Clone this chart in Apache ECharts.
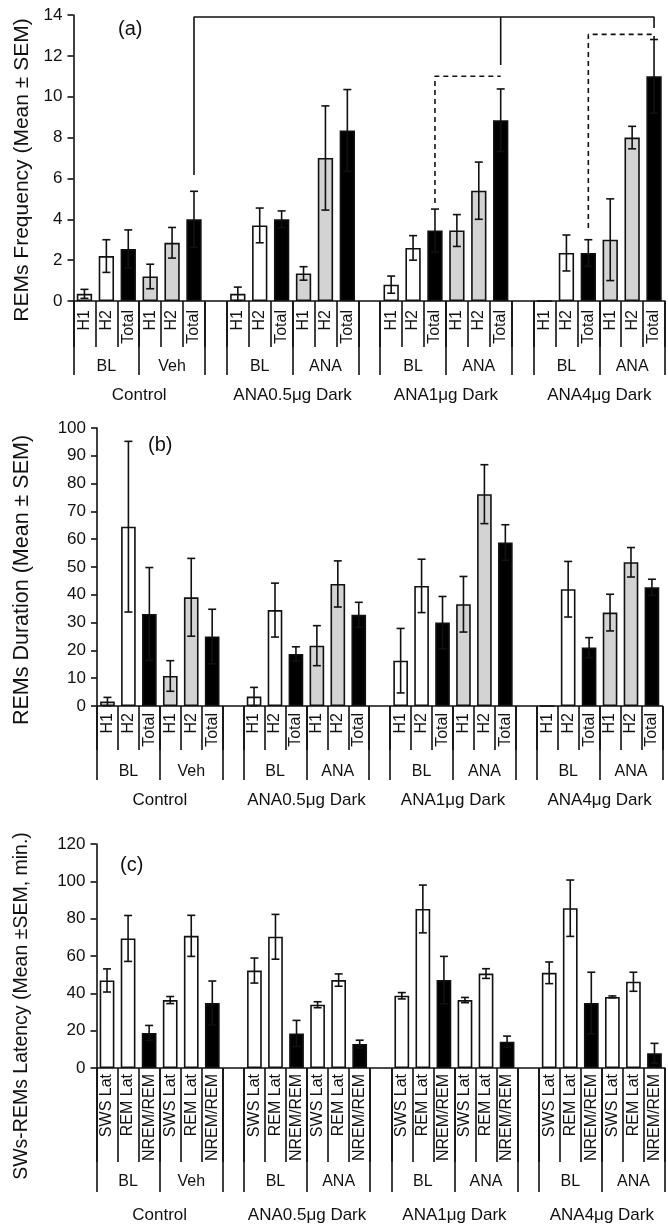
<!DOCTYPE html>
<html><head><meta charset="utf-8">
<script src="https://cdn.jsdelivr.net/npm/echarts@6/dist/echarts.min.js"></script>
<style>html,body{margin:0;padding:0;background:#fff}#c{width:668px;height:1224px}</style>
</head><body><div id="c"></div>
<script>
// ---------- data ----------
const groupNames = ['Control', 'ANA0.5μg Dark', 'ANA1μg Dark', 'ANA4μg Dark'];
const condNames = [['BL', 'Veh'], ['BL', 'ANA'], ['BL', 'ANA'], ['BL', 'ANA']];
const hourLabels = ['H1', 'H2', 'Total'];
const latLabels = ['SWS Lat', 'REM Lat', 'NREM/REM'];

// (a) REMs frequency, order: group -> condition -> H1,H2,Total
const freqMean = [0.35, 2.2, 2.55, 1.2, 2.85, 4.0,  0.35, 3.7, 4.0, 1.35, 7.0, 8.35,  0.8, 2.6, 3.45, 3.45, 5.4, 8.85,  0, 2.35, 2.35, 3.0, 8.0, 11.0];
const freqSem  = [0.22, 0.8, 0.93, 0.6, 0.75, 1.37,  0.33, 0.85, 0.41, 0.33, 2.55, 2.0,  0.42, 0.6, 1.05, 0.78, 1.4, 1.53,  0, 0.88, 0.65, 2.0, 0.55, 1.8];
// (b) REMs duration
const durMean = [1.6, 64.5, 33.1, 10.8, 39.1, 25.0,  3.4, 34.5, 18.7, 21.7, 43.9, 32.8,  16.3, 43.2, 30.0, 36.6, 76.2, 58.8,  0, 42.0, 21.0, 33.6, 51.7, 42.7];
const durSem  = [1.5, 30.7, 16.7, 5.5, 14.0, 9.8,  3.3, 9.7, 2.6, 7.2, 8.3, 4.5,  11.6, 9.6, 9.4, 10.0, 10.6, 6.4,  0, 10.0, 3.6, 6.6, 5.3, 2.9];
// (c) SWS / REM latency
const latMean = [46.9, 69.4, 18.8, 36.4, 70.8, 34.8,  52.2, 70.3, 18.5, 33.9, 47.1, 12.8,  38.7, 85.2, 47.1, 36.4, 50.6, 14.1,  51.0, 85.6, 34.8, 38.1, 46.2, 7.9];
const latSem  = [6.2, 12.3, 4.0, 1.9, 11.0, 11.8,  6.7, 12.0, 7.0, 1.6, 3.3, 2.1,  1.7, 12.8, 12.7, 1.4, 2.6, 3.0,  5.8, 15.1, 16.5, 0.5, 5.1, 5.3];

// significance brackets in panel (a): [slot index, value]
const bracketSolid = [[5, 6.17], [5, 13.9], [26, 13.9], [26, 13.36]];
const bracketSolidDrop = [[19, 13.9], [19, 11.55]];
const bracketDash1 = [[16, 4.8], [16, 11.0], [19, 11.0]];
const bracketDash2 = [[23, 3.57], [23, 13.05], [26, 13.05], [26, 12.8]];

// ---------- helpers ----------
const FONT = 'Liberation Sans, Arial, Helvetica, sans-serif';
const GRAY = '#d3d3d3';
const NSLOT = 27, NHALF = 55;
function slotOf(i) { return i + Math.floor(i / 6); }
function bottomCats(sub) {
  const c = [];
  for (let g = 0; g < 4; g++) { c.push(...sub, ...sub); if (g < 3) c.push(''); }
  return c;
}
function condCats() {
  const c = new Array(NHALF).fill('');
  for (let g = 0; g < 4; g++) { const b = g * 7; c[2 * b + 3] = condNames[g][0]; c[2 * b + 9] = condNames[g][1]; }
  return c;
}
function groupCats() {
  const c = new Array(NHALF).fill('');
  for (let g = 0; g < 4; g++) { c[2 * (g * 7 + 3)] = groupNames[g]; }
  return c;
}
const longTickIdx = new Set();
for (let g = 0; g < 4; g++) { const b = g * 7; longTickIdx.add(2 * b); longTickIdx.add(2 * b + 6); longTickIdx.add(2 * b + 12); }

function colorOf(i, allWhite) {
  const sub = i % 3, cond = Math.floor(i / 3) % 2;
  if (sub === 2) return '#000';
  if (allWhite) return '#fff';
  return cond === 0 ? '#fff' : GRAY;
}
function barData(mean, allWhite) {
  const d = new Array(NSLOT).fill(null);
  mean.forEach((v, i) => { d[slotOf(i)] = { value: v, itemStyle: { color: colorOf(i, allWhite) } }; });
  return d;
}
function errData(mean, sem) {
  return mean.map((v, i) => [slotOf(i), v, sem[i]]);
}
function errRender(params, api) {
  const s = api.value(2);
  if (!s) return;
  const x = api.value(0), m = api.value(1);
  const t = api.coord([x, m + s]), b = api.coord([x, m - s]);
  const cap = 4, st = { stroke: '#111', lineWidth: 1.6 };
  return { type: 'group', children: [
    { type: 'line', shape: { x1: t[0], y1: t[1], x2: b[0], y2: b[1] }, style: st },
    { type: 'line', shape: { x1: t[0] - cap, y1: t[1], x2: t[0] + cap, y2: t[1] }, style: st },
    { type: 'line', shape: { x1: b[0] - cap, y1: b[1], x2: b[0] + cap, y2: b[1] }, style: st }
  ] };
}

const panels = [
  { left: 73.5, right: -1, top: 15, height: 286, max: 14, interval: 2, name: 'REMs Frequency (Mean ± SEM)', nameSize: 21, namePad: 24, nameGap: 40,
    sub: hourLabels, subMargin: 9, shortLen: 46, longLen: 74, condMargin: 58, groupMargin: 86, mean: freqMean, sem: freqSem, allWhite: false, tag: '(a)', tagX: 113, tagY: 14 },
  { left: 97, right: 5.6, top: 428, height: 278, max: 100, interval: 10, name: 'REMs Duration (Mean ± SEM)', nameSize: 21.5, namePad: 26, nameGap: 64,
    sub: hourLabels, subMargin: 7, shortLen: 44, longLen: 74, condMargin: 58, groupMargin: 86, mean: durMean, sem: durSem, allWhite: false, tag: '(b)', tagX: 143, tagY: 430 },
  { left: 96.5, right: 0.7, top: 844, height: 228, max: 120, interval: 20, name: 'SWs-REMs Latency (Mean ±SEM, min.)', nameSize: 19.5, namePad: 100, nameGap: 65,
    sub: latLabels, subMargin: 6, shortLen: 94, longLen: 124, condMargin: 106, groupMargin: 139, mean: latMean, sem: latSem, allWhite: true, tag: '(c)', tagX: 115, tagY: 850 }
];

const grid = [], xAxis = [], yAxis = [], series = [], title = [];
const axisLineStyle = { color: '#111', width: 1.6 };
panels.forEach((p, k) => {
  grid.push({ left: p.left, right: p.right, top: p.top, height: p.height, containLabel: false });
  title.push({ text: p.tag, left: p.tagX, top: p.tagY, textStyle: { fontFamily: FONT, fontSize: 20, fontWeight: 'normal', color: '#111' } });
  // primary category axis: bars, short ticks, rotated labels
  xAxis.push({ type: 'category', gridIndex: k, data: bottomCats(p.sub), boundaryGap: true,
    axisLine: { show: true, lineStyle: axisLineStyle },
    axisTick: { show: true, interval: 0, length: p.shortLen, lineStyle: axisLineStyle },
    axisLabel: { interval: 0, rotate: 90, margin: p.subMargin, fontSize: 16, fontFamily: FONT, color: '#111' },
    splitLine: { show: false } });
  // half-slot axis: long ticks and condition labels
  xAxis.push({ type: 'category', gridIndex: k, data: condCats(), boundaryGap: false, position: 'bottom',
    axisLine: { show: false },
    axisTick: { show: true, length: p.longLen, lineStyle: axisLineStyle, interval: (i) => longTickIdx.has(i) },
    axisLabel: { interval: 0, margin: p.condMargin, fontSize: 16, fontFamily: FONT, color: '#111' },
    splitLine: { show: false } });
  // half-slot axis: group labels
  xAxis.push({ type: 'category', gridIndex: k, data: groupCats(), boundaryGap: false, position: 'bottom',
    axisLine: { show: false }, axisTick: { show: false },
    axisLabel: { interval: 0, margin: p.groupMargin, fontSize: 17, fontFamily: FONT, color: '#111' },
    splitLine: { show: false } });
  yAxis.push({ type: 'value', gridIndex: k, min: 0, max: p.max, interval: p.interval,
    name: p.name, nameLocation: 'middle', nameGap: p.nameGap,
    nameTextStyle: { fontFamily: FONT, fontSize: p.nameSize, color: '#111', padding: [0, p.namePad, 0, 0] },
    axisLine: { show: true, lineStyle: axisLineStyle },
    axisTick: { show: true, length: 6, lineStyle: axisLineStyle },
    axisLabel: { margin: 11, fontSize: 17, fontFamily: FONT, color: '#111' },
    splitLine: { show: false } });
  series.push({ type: 'bar', xAxisIndex: 3 * k, yAxisIndex: k, barWidth: '70%', data: barData(p.mean, p.allWhite),
    itemStyle: { borderColor: '#111', borderWidth: 1.6 }, animation: false });
  series.push({ type: 'custom', xAxisIndex: 3 * k, yAxisIndex: k, data: errData(p.mean, p.sem), renderItem: errRender, z: 5, animation: false });
});

// brackets in panel (a)
[[bracketSolid, 'solid'], [bracketSolidDrop, 'solid'], [bracketDash1, [5, 4]], [bracketDash2, [5, 4]]].forEach(([d, t]) => {
  series.push({ type: 'line', xAxisIndex: 0, yAxisIndex: 0, data: d, symbol: 'none', clip: false, animation: false,
    lineStyle: { color: '#111', width: 1.6, type: t }, z: 6 });
});

const chart = echarts.init(document.getElementById('c'), null, { renderer: 'canvas' });
chart.setOption({ backgroundColor: '#fff', animation: false, textStyle: { fontFamily: FONT }, title, grid, xAxis, yAxis, series });
</script></body></html>
